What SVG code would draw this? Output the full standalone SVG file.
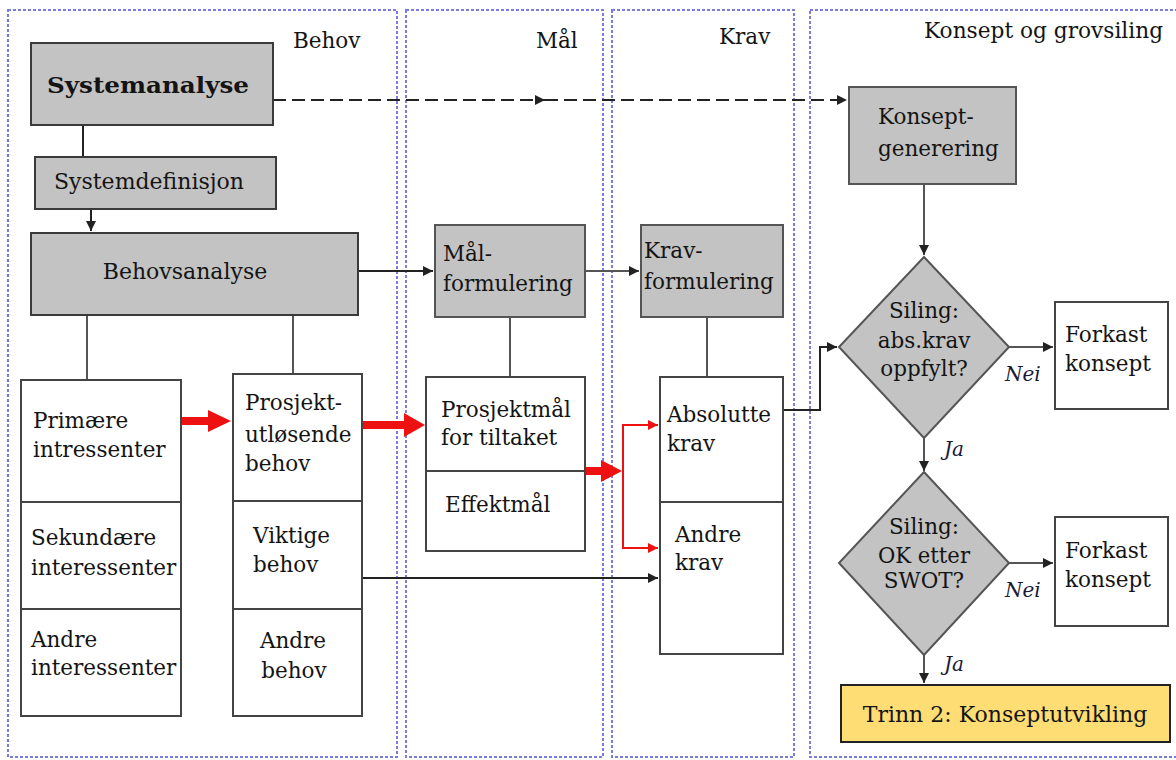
<svg xmlns="http://www.w3.org/2000/svg" width="1176" height="760" viewBox="0 0 1176 760">
  <style>
    .lane { fill: none; stroke: #7c7ce0; stroke-width: 2; stroke-dasharray: 3 2; }
    .lanetitle { font-family: "DejaVu Serif", "Liberation Serif", serif; font-size: 21.5px; fill: #141414; }
    .grey { fill: #c3c3c3; stroke: #3a3a3a; stroke-width: 2; }
    .white { fill: #ffffff; stroke: #444444; stroke-width: 2; }
    .yellow { fill: #fedd75; stroke: #222222; stroke-width: 2; }
    .div { stroke: #444444; stroke-width: 2; }
    .t { font-family: "DejaVu Serif", "Liberation Serif", serif; font-size: 21.5px; fill: #141414; }
    .tb { font-family: "DejaVu Serif", "Liberation Serif", serif; font-size: 23px; font-weight: bold; fill: #141414; }
    .ti { font-family: "DejaVu Serif", "Liberation Serif", serif; font-size: 20px; font-style: italic; fill: #1a1a3a; }
    .ln { fill: none; stroke: #555555; stroke-width: 2; }
    .lk { fill: none; stroke: #222222; stroke-width: 2; }
    .dash { fill: none; stroke: #222222; stroke-width: 2; stroke-dasharray: 13 6; }
    .red { fill: none; stroke: #ee1111; stroke-width: 2; }
    .redfill { fill: #ee1111; }
  </style>
  <defs>
    <marker id="ah" viewBox="0 0 10 10" refX="10" refY="5" markerWidth="5" markerHeight="5" orient="auto" markerUnits="strokeWidth">
      <path d="M0,0 L10,5 L0,10 z" fill="#222222"/>
    </marker>
    <marker id="ahr" viewBox="0 0 10 10" refX="10" refY="5" markerWidth="5" markerHeight="5" orient="auto" markerUnits="strokeWidth">
      <path d="M0,0 L10,5 L0,10 z" fill="#ee1111"/>
    </marker>
  </defs>

  <rect width="1176" height="760" fill="#ffffff"/>

  <!-- swimlanes -->
  <g id="lanes">
    <rect class="lane" x="8" y="10" width="389" height="747"/>
    <rect class="lane" x="406" y="10" width="197" height="747"/>
    <rect class="lane" x="612" y="10" width="182" height="747"/>
    <rect class="lane" x="810" y="10" width="380" height="747"/>
    <text class="lanetitle" x="293" y="48">Behov</text>
    <text class="lanetitle" x="536" y="48">Mål</text>
    <text class="lanetitle" x="719" y="44">Krav</text>
    <text class="lanetitle" x="924" y="38" textLength="239" lengthAdjust="spacingAndGlyphs">Konsept og grovsiling</text>
  </g>

  <!-- connectors -->
  <g id="connectors">
    <line class="dash" x1="273" y1="100" x2="545" y2="100" marker-end="url(#ah)"/>
    <line class="dash" x1="545" y1="100" x2="847" y2="100" marker-end="url(#ah)"/>
    <line class="lk" x1="83" y1="125" x2="83" y2="157"/>
    <line class="lk" x1="91" y1="209" x2="91" y2="231" marker-end="url(#ah)"/>
    <line class="lk" x1="358" y1="271" x2="433" y2="271" marker-end="url(#ah)"/>
    <line class="ln" x1="585" y1="271" x2="639" y2="271" marker-end="url(#ah)"/>
    <line class="ln" x1="87" y1="315" x2="87" y2="380"/>
    <line class="ln" x1="293" y1="315" x2="293" y2="374"/>
    <line class="ln" x1="510" y1="317" x2="510" y2="377"/>
    <line class="ln" x1="707" y1="317" x2="707" y2="377"/>
    <line class="ln" x1="924" y1="184" x2="924" y2="255" marker-end="url(#ah)"/>
    <polyline class="lk" points="783,410 820,410 820,347 837,347" marker-end="url(#ah)"/>
    <line class="ln" x1="1008" y1="347" x2="1053" y2="347" marker-end="url(#ah)"/>
    <line class="ln" x1="924" y1="438" x2="924" y2="471" marker-end="url(#ah)"/>
    <line class="ln" x1="1008" y1="563" x2="1053" y2="563" marker-end="url(#ah)"/>
    <line class="ln" x1="924" y1="655" x2="924" y2="683" marker-end="url(#ah)"/>
    <line class="lk" x1="362" y1="578" x2="658" y2="578" marker-end="url(#ah)"/>
    <!-- red flow arrows -->
    <polygon class="redfill" points="181,417 208,417 208,410 231,421 208,432 208,425 181,425"/>
    <polygon class="redfill" points="362,421 404,421 404,413 425,425 404,437 404,429 362,429"/>
    <polygon class="redfill" points="585,467 601,467 601,460 622,471 601,482 601,475 585,475"/>
    <polyline class="red" points="657,425 623,425 623,548 657,548"/>
    <line class="red" x1="623" y1="425" x2="658" y2="425" marker-end="url(#ahr)"/>
    <line class="red" x1="623" y1="548" x2="658" y2="548" marker-end="url(#ahr)"/>
  </g>

  <g id="systemanalyse">
    <rect class="grey" x="31" y="43" width="242" height="82"/>
    <text class="tb" x="148" y="93" text-anchor="middle" textLength="202" lengthAdjust="spacingAndGlyphs">Systemanalyse</text>
  </g>

  <g id="systemdefinisjon">
    <rect class="grey" x="35" y="157" width="241" height="52"/>
    <text class="t" x="149" y="189" text-anchor="middle" style="font-size:22px">Systemdefinisjon</text>
  </g>

  <g id="behovsanalyse">
    <rect class="grey" x="31" y="233" width="327" height="82"/>
    <text class="t" x="185" y="279" text-anchor="middle" style="font-size:22px">Behovsanalyse</text>
  </g>

  <g id="malformulering">
    <rect class="grey" x="435" y="225" width="150" height="92" style="stroke:#555555"/>
    <text class="t" x="443" y="261">Mål-</text>
    <text class="t" x="443" y="291">formulering</text>
  </g>

  <g id="kravformulering">
    <rect class="grey" x="641" y="225" width="142" height="92" style="stroke:#555555"/>
    <text class="t" x="644" y="258">Krav-</text>
    <text class="t" x="644" y="289">formulering</text>
  </g>

  <g id="konseptgenerering">
    <rect class="grey" x="849" y="87" width="167" height="97" style="stroke:#555555"/>
    <text class="t" x="878" y="124">Konsept-</text>
    <text class="t" x="878" y="156">generering</text>
  </g>

  <g id="interessenter">
    <rect class="white" x="21" y="380" width="160" height="336"/>
    <line class="div" x1="21" y1="502" x2="181" y2="502"/>
    <line class="div" x1="21" y1="609" x2="181" y2="609"/>
    <text class="t" x="33" y="428">Primære</text>
    <text class="t" x="33" y="457">intressenter</text>
    <text class="t" x="31" y="545">Sekundære</text>
    <text class="t" x="31" y="575">interessenter</text>
    <text class="t" x="31" y="647">Andre</text>
    <text class="t" x="31" y="675">interessenter</text>
  </g>

  <g id="behov">
    <rect class="white" x="233" y="374" width="129" height="342"/>
    <line class="div" x1="233" y1="501" x2="362" y2="501"/>
    <line class="div" x1="233" y1="609" x2="362" y2="609"/>
    <text class="t" x="245" y="410">Prosjekt-</text>
    <text class="t" x="245" y="442">utløsende</text>
    <text class="t" x="245" y="471">behov</text>
    <text class="t" x="253" y="543">Viktige</text>
    <text class="t" x="253" y="572">behov</text>
    <text class="t" x="293" y="648" text-anchor="middle">Andre</text>
    <text class="t" x="294" y="678" text-anchor="middle">behov</text>
  </g>

  <g id="mal">
    <rect class="white" x="426" y="377" width="159" height="174"/>
    <line class="div" x1="426" y1="471" x2="585" y2="471"/>
    <text class="t" x="441" y="417">Prosjektmål</text>
    <text class="t" x="441" y="445">for tiltaket</text>
    <text class="t" x="445" y="512">Effektmål</text>
  </g>

  <g id="krav">
    <rect class="white" x="660" y="377" width="123" height="277"/>
    <line class="div" x1="660" y1="502" x2="783" y2="502"/>
    <text class="t" x="667" y="422">Absolutte</text>
    <text class="t" x="667" y="451">krav</text>
    <text class="t" x="675" y="542">Andre</text>
    <text class="t" x="675" y="570">krav</text>
  </g>

  <g id="siling-abs">
    <polygon class="grey" points="924,257 1009,347 924,438 839,347" style="stroke:#555555"/>
    <text class="t" x="924" y="318" text-anchor="middle">Siling:</text>
    <text class="t" x="924" y="348" text-anchor="middle">abs.krav</text>
    <text class="t" x="924" y="376" text-anchor="middle">oppfylt?</text>
  </g>

  <g id="forkast-1">
    <rect class="white" x="1055" y="302" width="113" height="107"/>
    <text class="t" x="1065" y="342">Forkast</text>
    <text class="t" x="1065" y="371">konsept</text>
  </g>

  <g id="siling-swot">
    <polygon class="grey" points="924,472 1009,563 924,655 839,563" style="stroke:#555555"/>
    <text class="t" x="924" y="534" text-anchor="middle">Siling:</text>
    <text class="t" x="924" y="563" text-anchor="middle" textLength="92" lengthAdjust="spacingAndGlyphs">OK etter</text>
    <text class="t" x="924" y="588" text-anchor="middle">SWOT?</text>
  </g>

  <g id="forkast-2">
    <rect class="white" x="1055" y="517" width="113" height="109"/>
    <text class="t" x="1065" y="558">Forkast</text>
    <text class="t" x="1065" y="587">konsept</text>
  </g>

  <g id="trinn2">
    <rect class="yellow" x="841" y="685" width="329" height="57"/>
    <text class="t" x="1005" y="722" text-anchor="middle" style="font-size:22px">Trinn 2: Konseptutvikling</text>
  </g>

  <g id="edge-labels">
    <text class="ti" x="1005" y="381">Nei</text>
    <text class="ti" x="944" y="456">Ja</text>
    <text class="ti" x="1005" y="597">Nei</text>
    <text class="ti" x="944" y="671">Ja</text>
  </g>
</svg>
